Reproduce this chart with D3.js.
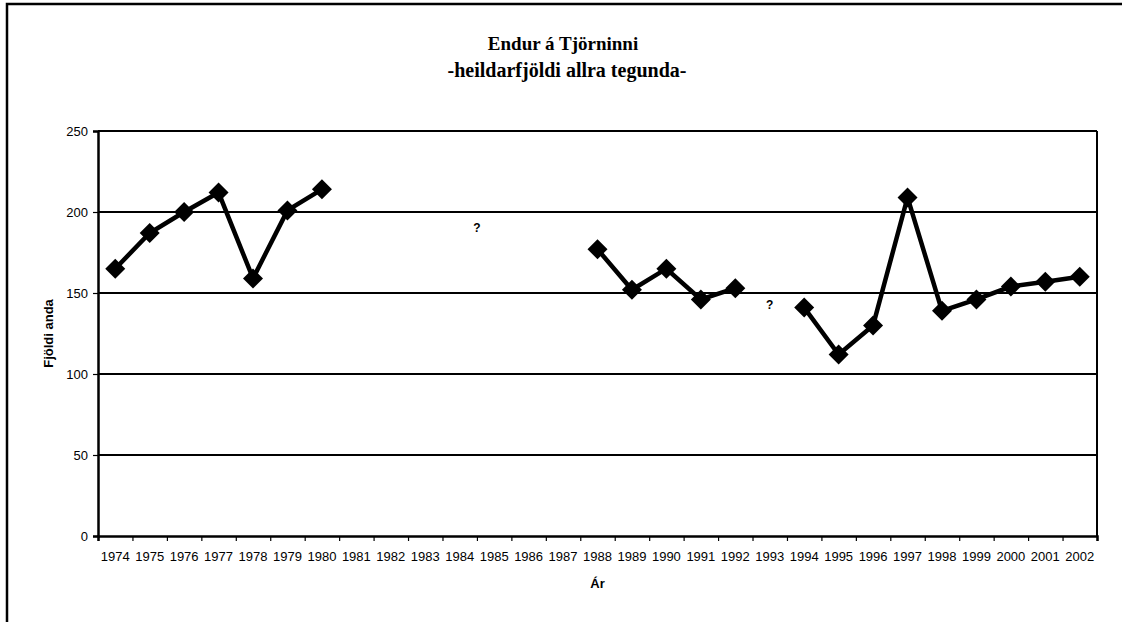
<!DOCTYPE html>
<html><head><meta charset="utf-8">
<script src="https://cdn.jsdelivr.net/npm/d3@7"></script>
<style>body{margin:0;background:#fff}svg{display:block}</style>
</head><body>
<svg id="c" width="1122" height="622"></svg>
<script>
const years = [1974,1975,1976,1977,1978,1979,1980,1981,1982,1983,1984,1985,1986,1987,1988,1989,1990,1991,1992,1993,1994,1995,1996,1997,1998,1999,2000,2001,2002];
const counts = [165,187,200,212,159,201,214,null,null,null,null,null,null,null,177,152,165,146,153,null,141,112,130,209,139,146,154,157,160];
const yTicks = [0,50,100,150,200,250];
const noteYears = [1984.5,1993];
const noteValues = [191,143];
const noteText = ["?","?"];
const titleLines = ["Endur á Tjörninni","-heildarfjöldi allra tegunda-"];
const yTitle = "Fjöldi anda";
const xTitle = "Ár";

const svg = d3.select("#c");
const L=98, R=1097, T=131, B=536;
const x = d3.scaleLinear().domain([years[0]-0.5, years[years.length-1]+0.5]).range([L,R]);
const y = d3.scaleLinear().domain([0,250]).range([B,T]);
const sans = "Liberation Sans, Arial, sans-serif";
const serif = "Liberation Serif, Times New Roman, serif";

// outer frame
svg.append("rect").attr("x",7).attr("y",4).attr("width",1130).attr("height",640)
  .attr("fill","none").attr("stroke","#000").attr("stroke-width",2.5);

// title
svg.append("text").attr("x",563).attr("y",50).attr("text-anchor","middle")
  .attr("font-family",serif).attr("font-weight","bold").attr("font-size",19).text(titleLines[0]);
svg.append("text").attr("x",567).attr("y",77).attr("text-anchor","middle")
  .attr("font-family",serif).attr("font-weight","bold").attr("font-size",20).text(titleLines[1]);

// gridlines
svg.append("g").selectAll("line").data(yTicks.filter(d=>d>0)).join("line")
  .attr("x1",L).attr("x2",R).attr("y1",d=>y(d)).attr("y2",d=>y(d))
  .attr("stroke","#000").attr("stroke-width",2);
svg.append("line").attr("x1",R).attr("x2",R).attr("y1",T).attr("y2",B).attr("stroke","#000").attr("stroke-width",2);

// y axis
const ya = svg.append("g").attr("transform",`translate(${L},0)`)
  .call(d3.axisLeft(y).tickValues(yTicks).tickSize(5).tickPadding(5));
ya.select(".domain").attr("stroke-width",2.5);
ya.selectAll(".tick line").attr("stroke-width",1.2);
ya.selectAll("text").attr("font-family",sans).attr("font-size",13).attr("fill","#000");

// x axis: ticks at category boundaries, labels at centers
const bounds = d3.range(years.length+1).map(i=>years[0]-0.5+i);
const xa = svg.append("g").attr("transform",`translate(0,${B})`)
  .call(d3.axisBottom(x).tickValues(bounds).tickSize(5).tickFormat(""));
xa.select(".domain").attr("stroke-width",2.5);
xa.selectAll(".tick line").attr("stroke-width",1.2);
svg.append("g").selectAll("text").data(years).join("text")
  .attr("x",d=>x(d)).attr("y",B+25).attr("text-anchor","middle")
  .attr("font-family",sans).attr("font-size",13).text(d=>d);

// axis titles
svg.append("text").attr("x",(L+R)/2).attr("y",588).attr("text-anchor","middle")
  .attr("font-family",sans).attr("font-weight","bold").attr("font-size",13).text(xTitle);
svg.append("text").attr("transform",`translate(53,${(T+B)/2}) rotate(-90)`).attr("text-anchor","middle")
  .attr("font-family",sans).attr("font-weight","bold").attr("font-size",13).text(yTitle);

// line
const pts = years.map((d,i)=>({year:d, v:counts[i]}));
const line = d3.line().defined(d=>d.v!=null).x(d=>x(d.year)).y(d=>y(d.v));
svg.append("path").datum(pts).attr("d",line).attr("fill","none").attr("stroke","#000")
  .attr("stroke-width",4.5).attr("stroke-linejoin","miter");
// diamonds
svg.append("g").selectAll("path").data(pts.filter(d=>d.v!=null)).join("path")
  .attr("transform",d=>`translate(${x(d.year)},${y(d.v)})`)
  .attr("d","M0,-10L10,0L0,10L-10,0Z").attr("fill","#000");

// notes
svg.append("g").selectAll("text").data(noteYears).join("text")
  .attr("x",d=>x(d)).attr("y",(d,i)=>y(noteValues[i])+5).attr("text-anchor","middle")
  .attr("font-family",sans).attr("font-weight","bold").attr("font-size",12)
  .text((d,i)=>noteText[i]);
</script>
</body></html>
